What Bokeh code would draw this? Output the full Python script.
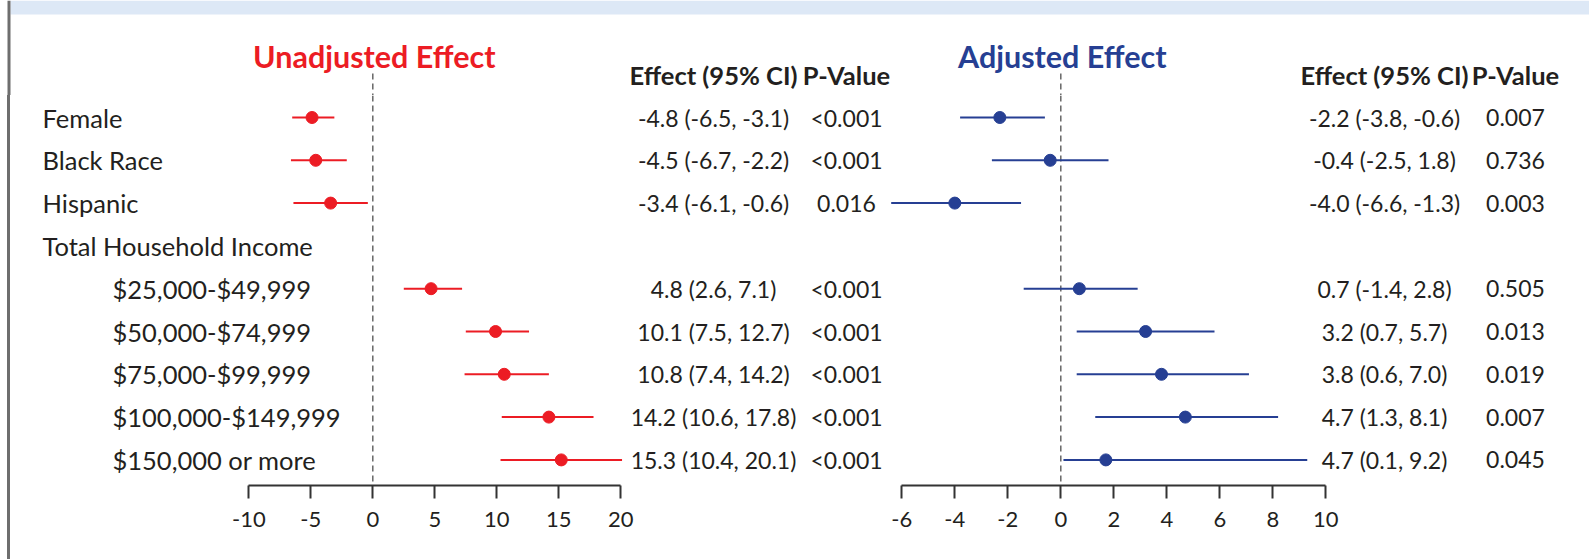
from bokeh.plotting import figure
from bokeh.models import Range1d, LinearAxis, FixedTicker, ColumnDataSource, BoxAnnotation, Div
from bokeh.layouts import row, column
from bokeh.embed import file_html
from bokeh.resources import INLINE
from bokeh.core.properties import value

# ---------------- data ----------------
row_labels = ["Female", "Black Race", "Hispanic", "Total Household Income",
              "$25,000-$49,999", "$50,000-$74,999", "$75,000-$99,999",
              "$100,000-$149,999", "$150,000 or more"]
row_indent = [0, 0, 0, 0, 1, 1, 1, 1, 1]
data_rows = [0, 1, 2, 4, 5, 6, 7, 8]

unadj_est = [-4.9, -4.6, -3.4, 4.7, 9.9, 10.6, 14.2, 15.2]
unadj_lo = [-6.5, -6.6, -6.4, 2.5, 7.5, 7.4, 10.4, 10.3]
unadj_hi = [-3.1, -2.1, -0.4, 7.2, 12.6, 14.2, 17.8, 20.1]
unadj_ci_text = ["-4.8 (-6.5, -3.1)", "-4.5 (-6.7, -2.2)", "-3.4 (-6.1, -0.6)",
                 "4.8 (2.6, 7.1)", "10.1 (7.5, 12.7)", "10.8 (7.4, 14.2)",
                 "14.2 (10.6, 17.8)", "15.3 (10.4, 20.1)"]
unadj_p_text = ["<0.001", "<0.001", "0.016", "<0.001", "<0.001", "<0.001", "<0.001", "<0.001"]

adj_est = [-2.3, -0.4, -4.0, 0.7, 3.2, 3.8, 4.7, 1.7]
adj_lo = [-3.8, -2.6, -6.4, -1.4, 0.6, 0.6, 1.3, 0.1]
adj_hi = [-0.6, 1.8, -1.5, 2.9, 5.8, 7.1, 8.2, 9.3]
adj_ci_text = ["-2.2 (-3.8, -0.6)", "-0.4 (-2.5, 1.8)", "-4.0 (-6.6, -1.3)",
               "0.7 (-1.4, 2.8)", "3.2 (0.7, 5.7)", "3.8 (0.6, 7.0)",
               "4.7 (1.3, 8.1)", "4.7 (0.1, 9.2)"]
adj_p_text = ["0.007", "0.736", "0.003", "0.505", "0.013", "0.019", "0.007", "0.045"]

unadj_ticks = [-10, -5, 0, 5, 10, 15, 20]
adj_ticks = [-6, -4, -2, 0, 2, 4, 6, 8, 10]

titles = ["Unadjusted Effect", "Adjusted Effect"]
col_headers = ["Effect (95% CI)", "P-Value"]

# ---------------- layout / style ----------------
W = 1589
H = 559
STRIP_H = 95
AXIS_Y = 485
ROW0 = 117.0
ROW_H = 42.8
FONT = "Lato"
TXT = "#231f20"
RED = "#ec1c24"
BLUE = "#263f93"
BAND = "#dde8f6"
BORDER = "#6e6e6e"

L_ZERO, L_PPU = 372.3, 12.4
R_ZERO, R_PPU = 1060.3, 26.5
L_CI, L_P = 713, 846
R_CI, R_P = 1384, 1515
SPLIT = 886
LEFT_EDGE = 10


def clean(p):
    p.outline_line_color = None
    p.xgrid.visible = False
    p.ygrid.visible = False
    p.background_fill_color = "white"
    p.border_fill_color = "white"


def canvas_box(p, left, right, top, bottom, color):
    p.add_layout(BoxAnnotation(left=left, right=right, top=top, bottom=bottom,
                               left_units="canvas", right_units="canvas",
                               top_units="canvas", bottom_units="canvas",
                               fill_color=color, fill_alpha=1, line_color=None,
                               level="underlay"))


# ---------------- header strip (full width) ----------------
strip = figure(width=W, height=STRIP_H,
               x_range=Range1d(-L_ZERO / L_PPU, (W - L_ZERO) / L_PPU),
               y_range=Range1d(STRIP_H, 0), output_backend="svg", toolbar_location=None,
               x_axis_location=None, y_axis_location=None,
               min_border_left=0, min_border_right=0, min_border_top=0, min_border_bottom=0)
strip.extra_x_ranges = {"adj": Range1d(-R_ZERO / R_PPU, (W - R_ZERO) / R_PPU)}
clean(strip)
canvas_box(strip, LEFT_EDGE, W, 0, 14, BAND)
canvas_box(strip, 7, 10, 0, STRIP_H, BORDER)

for rname, zero, ppu, color, title, cpx, ppx in [
        ("default", L_ZERO, L_PPU, RED, titles[0], L_CI, L_P),
        ("adj", R_ZERO, R_PPU, BLUE, titles[1], R_CI, R_P)]:
    def xd(px, zero=zero, ppu=ppu):
        return (px - zero) / ppu
    strip.segment(x0=[0], y0=[73], x1=[0], y1=[STRIP_H + 2], line_color="#666666",
                  line_width=1.5, line_dash="6 4", x_range_name=rname)
    strip.text(x=[xd(zero + 1.5)], y=[55], text=[title], text_font=value(FONT),
               text_font_size="30.5px", text_font_style="bold", text_color=color,
               text_align="center", text_baseline="middle", x_range_name=rname)
    strip.text(x=[xd(cpx), xd(ppx)], y=[74, 74], text=col_headers, text_font=value(FONT),
               text_font_size="25.5px", text_font_style="bold", text_color=TXT,
               text_align="center", text_baseline="middle", x_range_name=rname)

# ---------------- bottom panels ----------------
BH = H - STRIP_H
YB = (AXIS_Y - ROW0) / ROW_H
YT = (STRIP_H - ROW0) / ROW_H


def make_panel(width, canvas_x0, zero_px, ppu, ticks, est, lo, hi, ci_text, p_text,
               color, ci_col_px, p_col_px, draw_labels):
    start = (canvas_x0 - zero_px) / ppu
    end = start + width / ppu
    p = figure(width=width, height=BH, x_range=Range1d(start, end),
               y_range=Range1d(YB, YT), output_backend="svg", toolbar_location=None,
               x_axis_location=None, y_axis_location=None,
               min_border_left=0, min_border_right=0, min_border_top=0,
               min_border_bottom=H - AXIS_Y)
    clean(p)

    def xd(px):
        return (px - zero_px) / ppu

    p.segment(x0=[0], y0=[YT], x1=[0], y1=[YB], line_color="#666666",
              line_width=1.5, line_dash="6 4")

    ys = [float(r) for r in data_rows]
    src = ColumnDataSource(dict(y=ys, est=est, lo=lo, hi=hi, ci=ci_text, pv=p_text))
    p.segment(x0="lo", y0="y", x1="hi", y1="y", source=src, line_color=color, line_width=2)
    p.scatter(x="est", y="y", source=src, size=12, fill_color=color, line_color=color)

    p.text(x=xd(ci_col_px), y="y", text="ci", source=src, text_font=value(FONT),
           text_font_size="23px", text_color=TXT, text_align="center", text_baseline="middle")
    p.text(x=xd(p_col_px), y="y", text="pv", source=src, text_font=value(FONT),
           text_font_size="23px", text_color=TXT, text_align="center", text_baseline="middle")

    if draw_labels:
        lx = [xd(42) if ind == 0 else xd(112) for ind in row_indent]
        p.text(x=lx, y=list(range(len(row_labels))), text=row_labels, text_font=value(FONT),
               text_font_size="25.5px", text_color=TXT, text_align="left",
               text_baseline="middle")

    ax = LinearAxis(ticker=FixedTicker(ticks=ticks), bounds=(ticks[0], ticks[-1]))
    ax.major_label_overrides = {t: str(t) for t in ticks}
    ax.axis_line_color = "#333333"
    ax.axis_line_width = 2
    ax.major_tick_line_color = "#333333"
    ax.major_tick_line_width = 2
    ax.major_tick_in = 0
    ax.major_tick_out = 13
    ax.minor_tick_line_color = None
    ax.major_label_text_font = FONT
    ax.major_label_text_font_size = "22px"
    ax.major_label_text_color = TXT
    ax.major_label_standoff = 13
    p.add_layout(ax, "below")
    return p


edge = Div(text="", width=LEFT_EDGE, height=BH, margin=0,
           styles={"background": "linear-gradient(to right, #ffffff 0px, #ffffff 7px, "
                                 + BORDER + " 7px, " + BORDER + " 10px)"})

pL = make_panel(SPLIT - LEFT_EDGE, LEFT_EDGE, L_ZERO, L_PPU, unadj_ticks, unadj_est,
                unadj_lo, unadj_hi, unadj_ci_text, unadj_p_text, RED, L_CI, L_P, True)
pR = make_panel(W - SPLIT, SPLIT, R_ZERO, R_PPU, adj_ticks, adj_est, adj_lo, adj_hi,
                adj_ci_text, adj_p_text, BLUE, R_CI, R_P, False)

layout = column(strip, row(edge, pL, pR, spacing=0), spacing=0)
open("out.html", "w").write(file_html(layout, INLINE))
